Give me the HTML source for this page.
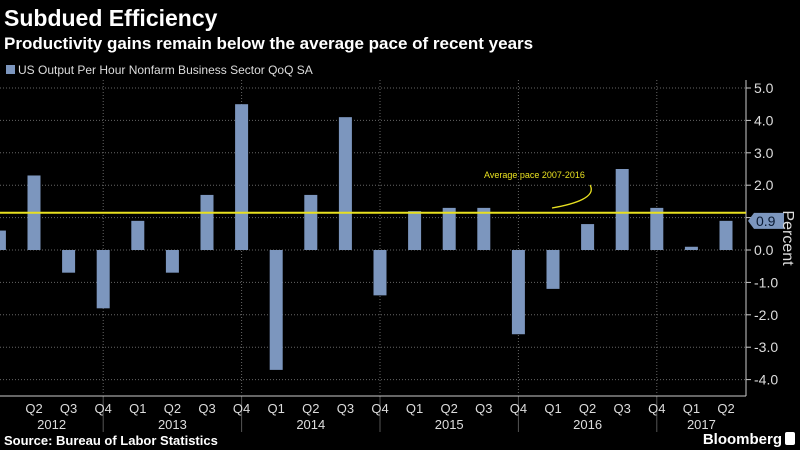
<!DOCTYPE html>
<html><head><meta charset="utf-8"><style>
body{margin:0;background:#000;width:800px;height:450px;overflow:hidden;font-family:"Liberation Sans",sans-serif;color:#fff}
</style></head><body>
<svg width="800" height="450" style="position:absolute;left:0;top:0">
<text x="4" y="26" font-size="23" font-weight="bold" fill="#fff">Subdued Efficiency</text>
<text x="4" y="49" font-size="17" font-weight="bold" fill="#fff">Productivity gains remain below the average pace of recent years</text>
<rect x="6" y="65" width="9" height="9" fill="#7c96be"/>
<text x="18" y="74" font-size="12" fill="#ddd">US Output Per Hour Nonfarm Business Sector QoQ SA</text>
<g id="grid"></g><g id="bars"></g><g id="axis"></g>
<text x="4" y="445" font-size="13" font-weight="bold" fill="#fff">Source: Bureau of Labor Statistics</text>
<text x="782" y="444" font-size="15" font-weight="bold" fill="#fff" text-anchor="end">Bloomberg</text>
<rect x="785" y="432" width="10" height="13" rx="2" fill="#fff"/>
</svg>
<script>
const quarters=["Q1","Q2","Q3","Q4","Q1","Q2","Q3","Q4","Q1","Q2","Q3","Q4","Q1","Q2","Q3","Q4","Q1","Q2","Q3","Q4","Q1","Q2"];
const years=["2012","2013","2014","2015","2016","2017"];
const values=[0.6,2.3,-0.7,-1.8,0.9,-0.7,1.7,4.5,-3.7,1.7,4.1,-1.4,1.2,1.3,1.3,-2.6,-1.2,0.8,2.5,1.3,0.1,0.9];
const yTicks=[5,4,3,2,1,0,-1,-2,-3,-4];
const average=1.15;
const NS="http://www.w3.org/2000/svg";
const y0=250,pu=32.4,x0=-0.6,step=34.6,axX=746;
const X=i=>x0+i*step, Y=v=>y0-v*pu;
function mk(t,a,p){const e=document.createElementNS(NS,t);for(const k in a)e.setAttribute(k,a[k]);p.appendChild(e);return e;}
const grid=document.getElementById('grid'),bars=document.getElementById('bars'),ax=document.getElementById('axis');
yTicks.forEach(v=>{
 const l=mk('line',{x1:0,x2:axX,y1:Y(v),y2:Y(v),stroke:'#666','stroke-dasharray':'1,2'},grid);
 
 
 mk('line',{x1:axX,x2:axX+5,y1:Y(v),y2:Y(v),stroke:'#ccc'},ax);
 const t=mk('text',{x:axX+8,y:Y(v)+5,'font-size':14,fill:'#ddd'},ax);
 t.textContent=v.toFixed(1);
 
 
});
quarters.forEach((q,i)=>{
 if(q==="Q4"){const g=mk('line',{x1:X(i),x2:X(i),y1:80,y2:395,stroke:'#666','stroke-dasharray':'1,2'},grid);
  
  
  mk('line',{x1:X(i),x2:X(i),y1:396,y2:432,stroke:'#555'},ax);}
 const v=values[i];
 const r=mk('rect',{x:X(i)-6.5,width:13,y:Math.min(Y(v),Y(0)),height:Math.abs(Y(v)-Y(0)),fill:'#7c96be'},bars);
 
 
 if(i>0){const t=mk('text',{x:X(i),y:413,'font-size':13,fill:'#ddd','text-anchor':'middle'},ax);
  t.textContent=q;
  
  }
});
years.forEach((yr,k)=>{
 const left=k===0?0:X(4*k-1);
 const right=Math.min(X(4*k+3),axX);
 const t=mk('text',{x:(left+right)/2,y:429,'font-size':13,fill:'#ddd','text-anchor':'middle'},ax);
 t.textContent=yr;
 
 
});
mk('line',{x1:0,x2:axX,y1:396,y2:396,stroke:'#ccc'},ax);
mk('line',{x1:axX,x2:axX,y1:80,y2:396,stroke:'#ccc'},ax);
const al=mk('line',{x1:0,x2:axX,y1:Y(average),y2:Y(average),stroke:'#e8e020','stroke-width':2},ax);


const at=mk('text',{x:484,y:178,'font-size':9,fill:'#e8e020'},ax);
at.textContent='Average pace 2007-2016';


mk('path',{d:'M552,208 C575,204 597,197 590,185',stroke:'#e8e020',fill:'none','stroke-width':1.3},ax);
const lv=values[values.length-1];
const lb=mk('path',{d:`M${axX+2},${Y(lv)} l6,-8 h30 v16 h-30 z`,fill:'#7c96be'},ax);


const lt=mk('text',{x:axX+10,y:Y(lv)+5,'font-size':14,fill:'#0a1a33'},ax);
lt.textContent=lv.toFixed(1);
const pt=mk('text',{x:783,y:238,'font-size':16,fill:'#ddd','text-anchor':'middle',transform:'rotate(90 783 238)'},ax);
pt.textContent='Percent';


</script>
</body></html>
